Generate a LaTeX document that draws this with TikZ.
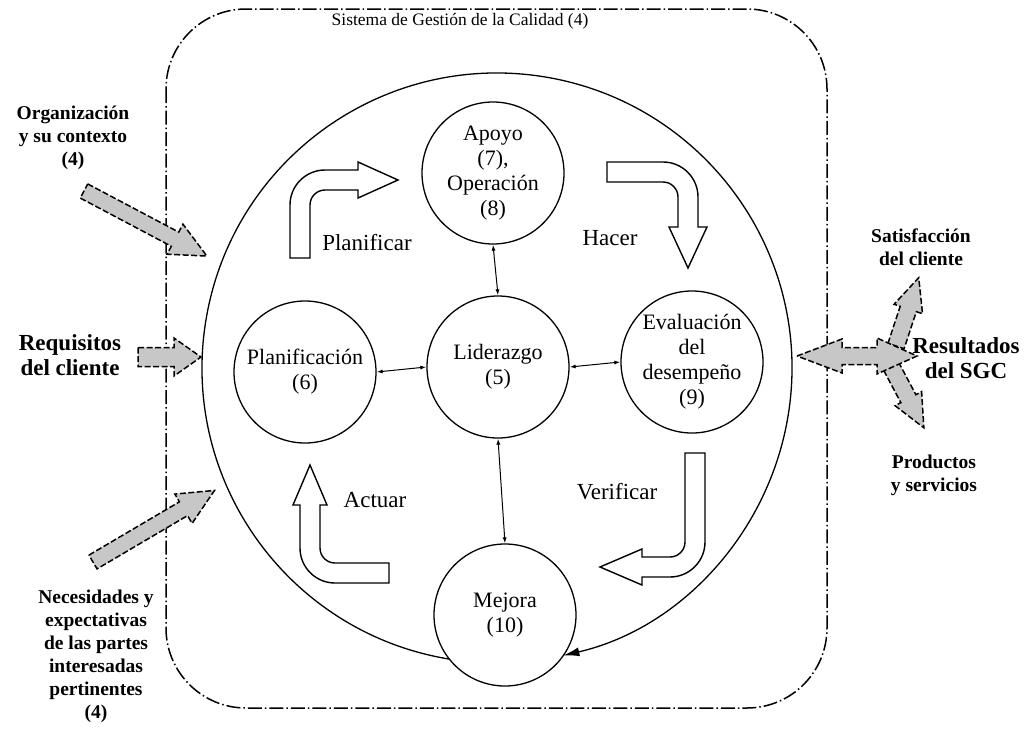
\documentclass[tikz,border=0pt]{standalone}
\usepackage{fontspec}
\setmainfont{Liberation Serif}
\usetikzlibrary{arrows.meta}
\newcommand{\grayarr}[6]{% tail, angle, length, shaft half, head half, head length
  \draw[garrow, shift={#1}, rotate=#2] (0,-#4) -- ({#3-#6},-#4) -- ({#3-#6},-#5) -- (#3,0) -- ({#3-#6},#5) -- ({#3-#6},#4) -- (0,#4) -- cycle;}
\tikzset{
  circ/.style={circle, draw, line width=1.3pt, minimum size=142pt, inner sep=0pt, align=center,
    font=\fontsize{22}{25}\selectfont},
  stagelbl/.style={font=\fontsize{23}{25}\selectfont, inner sep=0pt},
  outlbl/.style={font=\bfseries\fontsize{19.5}{23}\selectfont, align=center, inner sep=0pt},
  biglbl/.style={font=\bfseries\fontsize{23}{25}\selectfont, align=center, inner sep=0pt},
  biarr/.style={line width=1pt, {Latex[length=6pt,width=4pt]}-{Latex[length=6pt,width=4pt]}},
  bigarc/.style={line width=1.3pt, -{Latex[length=16pt,width=9pt]}},
  hollow/.style={draw, fill=white, line width=1.4pt, line join=miter},
  garrow/.style={draw, fill=black!22, line width=1.5pt, dash pattern=on 6pt off 2.5pt},
  border/.style={line width=1.5pt, dash pattern=on 14pt off 3pt on 1.5pt off 3pt}
}
\begin{document}
\begin{tikzpicture}[x=1pt,y=-1pt]
\useasboundingbox (0,0) rectangle (1029,734);
% outer system border
\draw[border, rounded corners=80pt] (166,9) rectangle (827,708);
\node[font=\fontsize{17.5}{20}\selectfont, inner sep=0pt] (title) at (460,21) {Sistema de Gestión de la Calidad (4)};
% big cycle circle
\coordinate (C) at (497,368);
\draw[bigarc] ([shift={(260.6:295pt)}]C) arc[start angle=260.6, end angle=-77, radius=295pt];
% inner circles
\node[circ] (apoyo) at (493,173) {Apoyo\\(7),\\Operación\\(8)};
\node[circ] (lider) at (498,367) {Liderazgo\\(5)};
\node[circ] (planif) at (305,372) {Planificación\\(6)};
\node[circ] (eval) at (692,362) {Evaluación\\del\\desempeño\\(9)};
\node[circ] (mejora) at (505,615) {Mejora\\(10)};
% connectors
\draw[biarr] (planif.east) -- (lider.west);
\draw[biarr] (lider.east) -- (eval.west);
\draw[biarr] (apoyo.south) -- (lider.north);
\draw[biarr] (lider.south) -- (mejora.north);
% PDCA hollow arrows
\draw[hollow] (290,258) -- (290,205) arc[start angle=180, end angle=90, radius=35pt] -- (358,170) -- (358,162) -- (398,180) -- (358,198) -- (358,190) -- (325,190) arc[start angle=90, end angle=180, radius=15pt] -- (310,258) -- cycle;
\draw[hollow] (607,162) -- (663,162) arc[start angle=90, end angle=0, radius=35pt] -- (698,227) -- (707,227) -- (688,268) -- (669,227) -- (678,227) -- (678,197) arc[start angle=0, end angle=90, radius=15pt] -- (607,182) -- cycle;
\draw[hollow] (685,453) -- (705,453) -- (705,542) arc[start angle=0, end angle=-90, radius=35pt] -- (642,577) -- (642,585) -- (600,567) -- (642,549) -- (642,557) -- (670,557) arc[start angle=-90, end angle=0, radius=15pt] -- cycle;
\draw[hollow] (389,563) -- (335,563) arc[start angle=-90, end angle=-180, radius=15pt] -- (320,505) -- (327,505) -- (310,465) -- (293,505) -- (300,505) -- (300,548) arc[start angle=180, end angle=270, radius=35pt] -- (389,583) -- cycle;
\node[stagelbl] (planificar) at (367,243) {Planificar};
\node[stagelbl] (hacer) at (610,238) {Hacer};
\node[stagelbl] (verificar) at (617,492) {Verificar};
\node[stagelbl] (actuar) at (375,500) {Actuar};
% grey input arrows
\grayarr{(84,191)}{-27.9}{139}{8}{17}{36}
\grayarr{(138,357)}{0}{63}{9.5}{19}{27}
\grayarr{(93,562)}{30.5}{141}{8}{17}{36}
% grey output arrows
\grayarr{(896,346)}{71.6}{72}{8.5}{15}{33}
\grayarr{(891,366)}{-62}{70}{8.5}{15}{33}
\draw[garrow] (797,356) -- (842,339) -- (842,347.5) -- (877,347.5) -- (877,338) -- (917,356) -- (877,374) -- (877,364.5) -- (842,364.5) -- (842,373) -- cycle;
% outside labels
\node[outlbl] (org) at (73,138) {Organización\\y su contexto\\(4)};
\node[biglbl] (req) at (70,355) {Requisitos\\del cliente};
\node[outlbl] (nec) at (96,656) {Necesidades y\\expectativas\\de las partes\\interesadas\\pertinentes\\(4)};
\node[outlbl] (sat) at (921,247) {Satisfacción\\del cliente};
\node[biglbl] (res) at (966,358) {Resultados\\del SGC};
\node[outlbl] (prod) at (934,475) {Productos\\y servicios};
\end{tikzpicture}
\end{document}
